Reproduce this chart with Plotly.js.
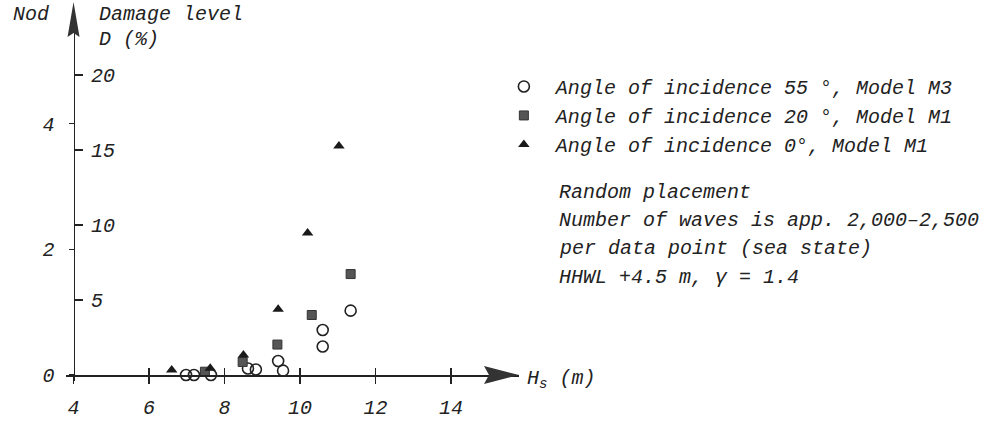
<!DOCTYPE html>
<html>
<head>
<meta charset="utf-8">
<script src="https://cdn.plot.ly/plotly-3.0.1.min.js"></script>
<style>
  html, body { margin: 0; padding: 0; background: #fff; }
  #chart { width: 996px; height: 424px; }
</style>
</head>
<body>
<div id="chart"></div>
<script>
// values: Hs (m) and damage level D (%)
var hs_55 = [6.98, 7.19, 7.64, 8.62, 8.83, 9.42, 9.55, 10.6, 10.6, 11.34];
var d_55 = [0, 0, 0, 0.43, 0.37, 0.93, 0.29, 3.0, 1.9, 4.29];

var hs_20 = [7.48, 8.48, 9.4, 10.31, 11.34];
var d_20 = [0.22, 0.87, 2.03, 4.0, 6.73];

var hs_0 = [6.6, 7.62, 8.5, 9.42, 10.2, 11.03];
var d_0 = [0.33, 0.45, 1.33, 4.38, 9.47, 15.27];

var names = [
  "\u00a0Angle of incidence 55 \u00b0, Model M3",
  "\u00a0Angle of incidence 20 \u00b0, Model M1",
  "\u00a0Angle of incidence 0\u00b0, Model M1"
];
var notes = [
  "Random placement",
  "Number of waves is app. 2,000\u20132,500",
  "per data point (sea state)",
  "HHWL +4.5 m, \u03b3 = 1.4"
];

var x_ticks = [4, 6, 8, 10, 12, 14];
var d_ticks = [5, 10, 15, 20];
var nod_ticks = [0, 2, 4];
var d_per_nod = 4.19;

var X_RANGE = [3.8, 15.8];
var D_RANGE = [-0.4, 23.67];

var ink = "#222";
var fnt = { family: "Liberation Mono, monospace", size: 20, color: ink, style: "italic" };

var yPos = (4 - X_RANGE[0]) / (X_RANGE[1] - X_RANGE[0]);
var xPos = (0 - D_RANGE[0]) / (D_RANGE[1] - D_RANGE[0]);

var traces = [
  {
    x: hs_55, y: d_55, mode: "markers", name: names[0], legendgroup: "a",
    cliponaxis: false,
    marker: { symbol: "circle-open", size: 11, color: ink, line: { width: 1.6, color: ink } }
  },
  {
    x: hs_20, y: d_20, mode: "markers", name: names[1], legendgroup: "b",
    cliponaxis: false,
    marker: { symbol: "square", size: 9, color: "#555", line: { width: 1, color: "#333" } }
  },
  {
    x: hs_0, y: d_0, mode: "markers", name: names[2], legendgroup: "c",
    cliponaxis: false,
    marker: { symbol: "triangle-up", size: 10, color: "#1a1a1a", line: { width: 0 } }
  },
  // empty traces so the Nod scale and the upper x ticks get drawn
  { x: [X_RANGE[0]], y: [0], yaxis: "y2", mode: "markers", showlegend: false, hoverinfo: "skip",
    marker: { opacity: 0 } },
  { x: [X_RANGE[0]], y: [0], xaxis: "x2", mode: "markers", showlegend: false, hoverinfo: "skip",
    marker: { opacity: 0 } }
];

var annos = [
  { text: "Nod", x: -0.0773, y: 1.0139, xanchor: "center" },
  { text: "Damage level", x: 0.0684, y: 1.0139, xanchor: "left" },
  { text: "D (%)", x: 0.0684, y: 0.9446, xanchor: "left" },
  { text: "H<sub>s</sub> (m)", x: 1.0132, y: 0.0028, xanchor: "left" }
];
var noteY = [192, 220, 248, 277];
for (var i = 0; i < notes.length; i++) {
  annos.push({ text: notes[i], x: (557 - 66) / 453, y: (381 - noteY[i]) / 361, xanchor: "left" });
}
annos = annos.map(function (a) {
  a.xref = "paper"; a.yref = "paper"; a.yanchor = "middle";
  a.showarrow = false; a.font = fnt;
  return a;
});

var layout = {
  width: 996, height: 424,
  margin: { l: 66, r: 477, t: 20, b: 43 },
  paper_bgcolor: "#fff", plot_bgcolor: "#fff",
  font: fnt,
  showlegend: true,
  legend: {
    x: 0.9666, y: 0.87, xanchor: "left", yanchor: "top",
    bgcolor: "rgba(0,0,0,0)", borderwidth: 0,
    font: fnt, traceorder: "grouped", tracegroupgap: 0
  },
  xaxis: {
    range: X_RANGE, anchor: "free", position: xPos,
    showgrid: false, zeroline: false,
    showline: true, linecolor: ink, linewidth: 1.5,
    tickvals: x_ticks, ticks: "outside", ticklen: 7, tickwidth: 1.5, tickcolor: ink,
    ticklabelstandoff: 6, tickfont: fnt, fixedrange: true
  },
  xaxis2: {
    range: X_RANGE, overlaying: "x", anchor: "free", position: xPos, side: "top",
    showgrid: false, zeroline: false, showline: false,
    tickvals: x_ticks.slice(1), ticks: "outside", ticklen: 7, tickwidth: 1.5, tickcolor: ink,
    showticklabels: false, fixedrange: true
  },
  yaxis: {
    range: D_RANGE, anchor: "free", position: yPos, side: "right",
    showgrid: false, zeroline: false,
    showline: true, linecolor: ink, linewidth: 1.5,
    tickvals: d_ticks, ticks: "outside", ticklen: 8, tickwidth: 1.5, tickcolor: ink,
    ticklabelstandoff: 4, tickfont: fnt, fixedrange: true
  },
  yaxis2: {
    range: [D_RANGE[0] / d_per_nod, D_RANGE[1] / d_per_nod],
    overlaying: "y", anchor: "free", position: yPos, side: "left",
    showgrid: false, zeroline: false, showline: false,
    tickvals: nod_ticks, ticks: "outside", ticklen: 5, tickwidth: 1.5, tickcolor: ink,
    ticklabelstandoff: 10, tickfont: fnt, fixedrange: true
  },
  annotations: annos,
  shapes: [
    // arrow heads on both axes
    { type: "path", xref: "paper", yref: "paper", xsizemode: "pixel", ysizemode: "pixel",
      xanchor: yPos, yanchor: 1, path: "M -6,-17 L 0,18 L 6,-17 L 0,-13 Z",
      fillcolor: "#333", line: { width: 0 } },
    { type: "path", xref: "paper", yref: "paper", xsizemode: "pixel", ysizemode: "pixel",
      xanchor: 1, yanchor: xPos, path: "M -35,9 L 0,0 L -35,-9 L -30,0 Z",
      fillcolor: "#333", line: { width: 0 } }
  ]
};

Plotly.newPlot("chart", traces, layout, { displayModeBar: false, staticPlot: true });
</script>
</body>
</html>
